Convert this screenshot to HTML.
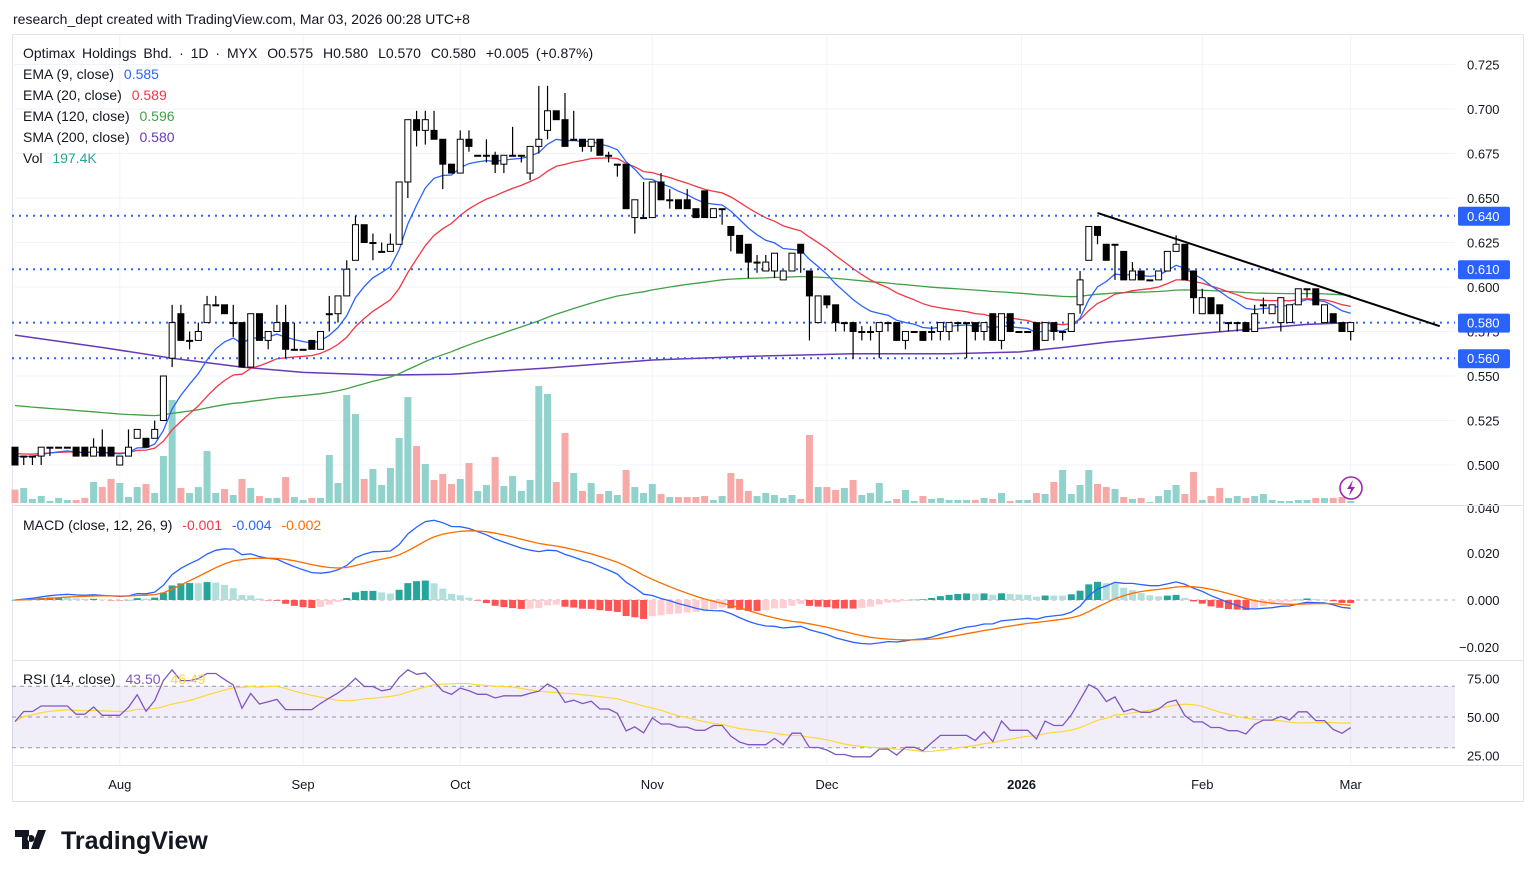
<!DOCTYPE html>
<html><head><meta charset="utf-8">
<style>
html,body{margin:0;padding:0;background:#fff;width:1536px;height:877px;overflow:hidden;font-family:"Liberation Sans",sans-serif;}
svg text{font-family:"Liberation Sans",sans-serif;}
</style></head>
<body>
<svg id="chart" width="1536" height="877" xmlns="http://www.w3.org/2000/svg">
<rect x="0" y="0" width="1536" height="877" fill="#fff"/>
<text x="13" y="24" font-size="14" fill="#131722">research_dept created with TradingView.com, Mar 03, 2026 00:28 UTC+8</text>
<rect x="12.5" y="34.5" width="1511" height="767" fill="none" stroke="#e0e3eb"/>
<g id="grid"></g>
<rect x="12" y="686" width="1443" height="62" fill="#7e57c2" fill-opacity="0.1"/>
<g id="panes"></g>
<line x1="12" y1="505.5" x2="1524" y2="505.5" stroke="#e0e3eb"/>
<line x1="12" y1="660.5" x2="1524" y2="660.5" stroke="#e0e3eb"/>
<line x1="12" y1="765.5" x2="1524" y2="765.5" stroke="#e0e3eb"/>
<g id="legend" font-size="14">
<text x="23" y="58" fill="#131722" word-spacing="3">Optimax Holdings Bhd. · 1D · MYX <tspan dx="3">O0.575</tspan> <tspan dx="3">H0.580</tspan> <tspan dx="3">L0.570</tspan> <tspan dx="3">C0.580</tspan> <tspan dx="3">+0.005 (+0.87%)</tspan></text>
<text x="23" y="79" fill="#131722">EMA (9, close) <tspan dx="6" fill="#2962ff">0.585</tspan></text>
<text x="23" y="100" fill="#131722">EMA (20, close) <tspan dx="6" fill="#f23645">0.589</tspan></text>
<text x="23" y="121" fill="#131722">EMA (120, close) <tspan dx="6" fill="#43a047">0.596</tspan></text>
<text x="23" y="142" fill="#131722">SMA (200, close) <tspan dx="6" fill="#673ab7">0.580</tspan></text>
<text x="23" y="163" fill="#131722">Vol <tspan dx="6" fill="#26a69a">197.4K</tspan></text>
<text x="23" y="530" fill="#131722">MACD (close, 12, 26, 9) <tspan dx="6" fill="#f23645">-0.001</tspan> <tspan dx="6" fill="#2962ff">-0.004</tspan> <tspan dx="6" fill="#ff6d00">-0.002</tspan></text>
<text x="23" y="684" fill="#131722">RSI (14, close) <tspan dx="6" fill="#7e57c2">43.50</tspan> <tspan dx="6" fill="#fdd835">46.49</tspan></text>
</g>
<g>
<path d="M15 830h14v19h-7v-12h-7z M31 835a3.5 3.5 0 1 0 0.1 0z M38 830h8l-7 19h-8z" fill="#131722"/>
<text x="61" y="849" font-size="25" font-weight="bold" fill="#131722">TradingView</text>
</g>
<g>
<circle cx="1351" cy="488" r="11" fill="#fff" stroke="#9c27b0" stroke-width="1.6"/>
<path d="M1353 480l-6 9h4l-2 7 6-9h-4z" fill="#9c27b0"/>
</g>
</svg>
<script>
const openP=[510,505,505,505,510,510,510,510,510,505,510,510,500,505,515,515,515,525,560,585,570,570,580,590,590,580,580,555,585,570,575,580,565,565,570,565,585,585,595,615,635,625,620,620,624,659,694,688,688,683,669,664,683,674,674,674,669,674,674,664,679,688,699,694,683,683,679,683,674,669,669,639,639,639,659,649,649,649,644,654,639,644,634,629,624,614,609,609,604,609,624,609,580,595,590,580,580,575,575,575,580,580,570,575,575,575,575,575,580,580,580,575,585,570,585,575,575,580,570,580,575,575,590,615,634,624,624,620,604,609,604,604,609,620,624,609,585,594,590,580,580,580,575,590,585,580,580,590,599,599,580,585,580,575];
const highP=[510,505,505,510,510,510,510,510,510,515,520,510,505,520,520,515,525,550,590,590,575,580,595,595,590,590,580,585,585,575,590,590,580,565,570,575,595,595,615,640,635,630,625,630,659,694,699,699,699,683,669,688,688,674,683,676,674,690,674,679,713,713,699,709,699,683,683,683,676,669,669,649,659,659,664,655,649,655,644,654,644,644,634,629,624,618,618,619,609,619,624,609,595,595,590,580,580,578,578,580,580,580,575,575,575,578,580,580,580,580,580,580,585,585,585,575,575,580,580,580,575,585,609,634,634,624,624,620,614,609,604,609,620,629,624,609,599,594,590,580,580,580,590,594,590,594,590,599,599,599,590,585,580,580];
const lowP=[500,500,500,500,505,510,510,505,505,505,505,505,500,505,515,510,515,525,555,570,565,570,580,590,585,572,555,555,570,565,575,560,565,565,565,565,575,580,595,615,625,615,620,620,624,650,679,680,683,655,664,664,676,674,670,664,664,674,670,660,675,683,694,679,683,676,676,674,670,662,644,630,639,639,649,644,644,644,639,639,639,635,620,619,605,608,609,605,604,609,608,570,580,588,575,575,560,570,570,560,575,570,565,575,570,570,570,570,575,560,570,570,570,565,575,575,575,565,570,570,570,575,585,615,624,615,604,604,604,604,604,604,609,620,604,585,585,585,575,575,575,575,575,585,585,575,580,590,594,590,580,580,575,570];
const closeP=[500,505,505,510,510,510,510,505,505,510,505,505,505,510,520,510,520,550,580,570,570,575,590,590,585,580,555,585,570,575,580,565,565,565,565,575,585,595,610,635,625,625,620,624,659,694,688,694,683,669,664,683,679,674,674,669,674,674,674,679,683,699,694,679,683,679,683,674,674,669,644,649,639,659,649,649,644,644,639,639,644,644,629,619,614,614,614,619,609,619,619,595,595,590,580,580,575,575,575,580,580,570,575,575,570,575,580,580,580,580,575,580,570,585,575,575,575,565,580,575,575,585,604,634,629,615,624,604,609,604,604,609,620,624,604,594,594,585,585,580,580,575,585,590,590,594,590,599,599,590,590,580,575,580];
const volumeK=[1320,1485,400,700,200,500,300,300,500,2080,1580,2380,1980,600,1580,1880,990,4650,10200,1490,990,1580,5150,990,1390,790,2380,1490,690,500,500,2570,590,300,500,500,4750,1980,10690,8810,2380,3370,1780,3470,6440,10490,5640,3860,2280,2870,1880,2380,3960,1190,1780,4550,1680,2670,1190,2280,11580,10790,2080,6930,2970,1190,1980,890,1190,790,3270,1580,990,1880,890,590,590,590,590,690,300,690,2970,2380,1190,690,990,790,500,790,400,6730,1580,1580,1290,1490,2280,790,990,1980,200,400,1290,200,690,400,500,300,300,300,300,500,400,990,200,300,300,990,890,2080,3270,890,1780,3270,1880,1580,1390,590,400,500,100,690,1290,1780,890,3070,300,690,1490,500,690,500,690,890,300,200,200,300,300,500,500,500,590,197];
const smaIdx=[0,10,18,26,33,42,50,61,73,84,96,107,115,120,125,136,148,153];
const smaVal=[0.573,0.566,0.560,0.555,0.552,0.5505,0.551,0.5545,0.559,0.561,0.5625,0.5625,0.5635,0.566,0.569,0.574,0.579,0.580];
const timeTickIdx=[12,33,51,73,93,115.3,136,153];
const timeTickLabels=['Aug','Sep','Oct','Nov','Dec','2026','Feb','Mar'];
const priceTicks=[0.500,0.525,0.550,0.575,0.600,0.625,0.650,0.675,0.700,0.725];
const levelLines=[0.640,0.610,0.580,0.560];
const macdTicks=[0.020,0.000,-0.020];
const rsiTicks=[75,50,25];
const trendStart=[124,0.6416];
const trendEnd=[163.2,0.578];

const NS='http://www.w3.org/2000/svg';
const svg=document.getElementById('chart');
const gGrid=document.getElementById('grid');
const gP=document.getElementById('panes');
function mk(tag,attrs,parent){const e=document.createElementNS(NS,tag);for(const k in attrs)e.setAttribute(k,attrs[k]);(parent||gP).appendChild(e);return e;}
const xS=i=>15+i*8.73;
const yP=p=>465-(p-0.5)*1780;
const yM=m=>600-m*2340;
const yR=r=>717-(r-50)*1.54;
const O=openP.map(v=>v/1000),Hh=highP.map(v=>v/1000),Ll=lowP.map(v=>v/1000),C=closeP.map(v=>v/1000);
const N=C.length;

priceTicks.forEach(p=>{const l=mk('line',{x1:12,x2:1455,y1:yP(p),y2:yP(p),stroke:'#f0f3fa'},gGrid);

});
timeTickIdx.forEach(i=>{const l=mk('line',{x1:xS(i),x2:xS(i),y1:35,y2:765,stroke:'#f0f3fa'},gGrid);

});

function ema(src,n,seed){const a=2/(n+1);let v=seed;return src.map(x=>{v=v===undefined?x:v+a*(x-v);return v;});}
function poly(pts,color,w,name,dash){const e=mk('polyline',{points:pts.map(p=>p[0].toFixed(1)+','+p[1].toFixed(1)).join(' '),fill:'none',stroke:color,'stroke-width':w});if(dash)e.setAttribute('stroke-dasharray',dash);

return e;}

for(let i=0;i<N;i++){const up=C[i]>=O[i];const h=volumeK[i]/99;
const r=mk('rect',{x:xS(i)-3.5,y:503-h,width:7,height:h,fill:up?'#92d2cc':'#f7a9a7'});

}

poly(smaIdx.map((k,j)=>[xS(k),yP(smaVal[j])]),'#673ab7',1.5,'sma200-line');
const e120=ema(C,120,0.534),e20=ema(C,20,0.507),e9=ema(C,9,0.506);
poly(e120.map((v,i)=>[xS(i),yP(v)]),'#43a047',1.3,'ema120-line');
poly(e20.map((v,i)=>[xS(i),yP(v)]),'#f23645',1.3,'ema20-line');
poly(e9.map((v,i)=>[xS(i),yP(v)]),'#2962ff',1.3,'ema9-line');

levelLines.forEach(p=>{const l=mk('line',{x1:12,x2:1455,y1:yP(p),y2:yP(p),stroke:'#2962ff','stroke-width':2,'stroke-dasharray':'2 5'});

});

for(let i=0;i<N;i++){const x=xS(i),up=C[i]>=O[i];
const w=mk('line',{x1:x,x2:x,y1:yP(Hh[i]),y2:yP(Ll[i]),stroke:'#000','stroke-width':1.2});


const top=yP(Math.max(O[i],C[i])),bot=yP(Math.min(O[i],C[i]));
const b=mk('rect',{x:x-3,y:top,width:6,height:Math.max(bot-top,1),fill:up?'#fff':'#000',stroke:'#000','stroke-width':1});

}

const tl=mk('line',{x1:xS(trendStart[0]),y1:yP(trendStart[1]),x2:xS(trendEnd[0]),y2:yP(trendEnd[1]),stroke:'#000','stroke-width':2});



const m12=ema(C,12),m26=ema(C,26);const macd=m12.map((v,i)=>v-m26[i]);const sig=ema(macd,9);const hist=macd.map((v,i)=>v-sig[i]);
const zl=mk('line',{x1:12,x2:1455,y1:600,y2:600,stroke:'#b2b5be','stroke-dasharray':'4 4'});


for(let i=0;i<N;i++){const h=hist[i],p=i?hist[i-1]:0;const col=h>=0?(h>=p?'#26a69a':'#b2dfdb'):(h<p?'#ff5252':'#ffcdd2');
const y0=yM(0),y1=yM(h);const r=mk('rect',{x:xS(i)-3.5,y:Math.min(y0,y1),width:7,height:Math.max(Math.abs(y1-y0),0.5),fill:col});

}
poly(macd.map((v,i)=>[xS(i),yM(v)]),'#2962ff',1.3,'macd-line');
poly(sig.map((v,i)=>[xS(i),yM(v)]),'#ff6d00',1.3,'signal-line');

const rsi=[];let ag=0.0025,al=0.0025;
for(let i=0;i<N;i++){if(i===0){rsi.push(47);continue;}const d=C[i]-C[i-1];const g=Math.max(d,0),l=Math.max(-d,0);
ag=(ag*13+g)/14;al=(al*13+l)/14;
rsi.push(100-100/(1+ag/al));}
const rsiMa=rsi.map((v,i)=>{const s=rsi.slice(Math.max(0,i-13),i+1);return s.reduce((a,b)=>a+b,0)/s.length;});
[70,50,30].forEach(v=>{const l=mk('line',{x1:12,x2:1455,y1:yR(v),y2:yR(v),stroke:'#9598a1','stroke-dasharray':'4 4'});

});
poly(rsiMa.map((v,i)=>[xS(i),yR(v)]),'#fdd835',1.2,'rsi-ma-line');
poly(rsi.map((v,i)=>[xS(i),yR(v)]),'#7e57c2',1.3,'rsi-line');

priceTicks.forEach(p=>{const t=mk('text',{x:1467,y:yP(p)+5,'font-size':13,fill:'#131722'});t.textContent=p.toFixed(3);

});
const v40=mk('text',{x:1467,y:513,'font-size':13,fill:'#131722'});v40.textContent='0.040';


levelLines.forEach(p=>{const y=yP(p);const r=mk('rect',{x:1458,y:y-9,width:52,height:19,rx:2,fill:'#2962ff'});


const t=mk('text',{x:1467,y:y+5,'font-size':13,fill:'#fff'});t.textContent=p.toFixed(3);

});
macdTicks.forEach(m=>{const t=mk('text',{x:1467,y:yM(m)+5,'font-size':13,fill:'#131722'});t.textContent=(m<0?'\u2212':'')+Math.abs(m).toFixed(3);
if(m<0)t.setAttribute('x',1459);

});
rsiTicks.forEach(r=>{const t=mk('text',{x:1467,y:yR(r)+5,'font-size':13,fill:'#131722'});t.textContent=r.toFixed(2);

});
timeTickIdx.forEach((k,j)=>{const t=mk('text',{x:xS(k),y:789,'font-size':13,fill:'#131722','text-anchor':'middle'});t.textContent=timeTickLabels[j];
if(timeTickLabels[j]==='2026')t.setAttribute('font-weight','bold');

});
</script>
</body></html>
